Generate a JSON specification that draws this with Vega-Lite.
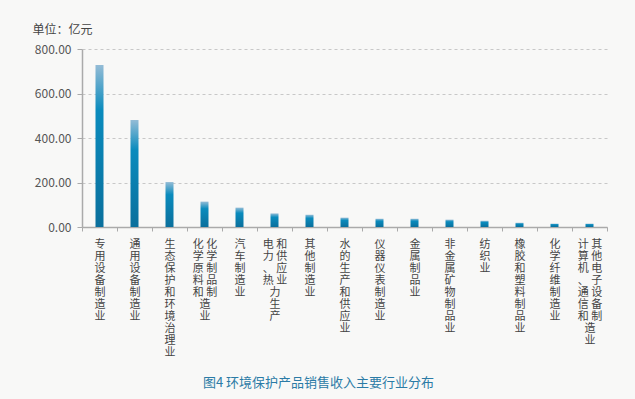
{
  "$schema": "https://vega.github.io/schema/vega-lite/v6.json",
  "width": 525,
  "height": 178,
  "autosize": {"type": "none"},
  "padding": {"left": 82, "top": 49, "right": 28, "bottom": 172},
  "background": "#f8f8f7",
  "title": {
    "text": "图4  环境保护产品销售收入主要行业分布",
    "orient": "bottom",
    "anchor": "middle",
    "frame": "group",
    "dx": -26,
    "offset": 20,
    "font": "Noto Sans CJK SC",
    "fontSize": 13,
    "fontWeight": "normal",
    "color": "#2b7ba6"
  },
  "config": {
    "view": {"stroke": null},
    "font": "Noto Sans CJK SC"
  },
  "data": {
    "values": [
      {"industry": "专用设备制造业", "revenue": 728},
      {"industry": "通用设备制造业", "revenue": 481},
      {"industry": "生态保护和环境治理业", "revenue": 202},
      {"industry": "化学原料和化学制品制造业", "revenue": 114},
      {"industry": "汽车制造业", "revenue": 87},
      {"industry": "电力、热力生产和供应业", "revenue": 61},
      {"industry": "其他制造业", "revenue": 55},
      {"industry": "水的生产和供应业", "revenue": 42},
      {"industry": "仪器仪表制造业", "revenue": 37},
      {"industry": "金属制品业", "revenue": 37},
      {"industry": "非金属矿物制品业", "revenue": 33},
      {"industry": "纺织业", "revenue": 28},
      {"industry": "橡胶和塑料制品业", "revenue": 19},
      {"industry": "化学纤维制造业", "revenue": 15},
      {"industry": "计算机、通信和其他电子设备制造业", "revenue": 15}
    ]
  },
  "mark": {
    "type": "bar",
    "size": 8,
    "color": {
      "gradient": "linear",
      "x1": 0, "y1": 0, "x2": 0, "y2": 1,
      "stops": [
        {"offset": 0, "color": "#94bcd6"},
        {"offset": 0.28, "color": "#0a8bbd"},
        {"offset": 1, "color": "#0a6f9c"}
      ]
    }
  },
  "encoding": {
    "x": {
      "field": "industry",
      "type": "nominal",
      "sort": null,
      "scale": {"paddingInner": 0, "paddingOuter": 0},
      "axis": {
        "title": null,
        "labelAngle": 0,
        "labelAlign": "center",
        "labelBaseline": "top",
        "labelFontSize": 11,
        "labelLineHeight": 12,
        "labelColor": "#444444",
        "labelPadding": 7,
        "labelOverlap": false,
        "labelLimit": 0,
        "labelBound": false,
        "tickBand": "extent",
        "tickSize": 4,
        "tickColor": "#aaaaaa",
        "domainColor": "#aaaaaa",
        "domainWidth": 1.5,
        "labelExpr": "!isString(datum.value) ? '' : datum.value == '化学原料和化学制品制造业' ? ['化 化','学 学','原 制','料 品','和 制','　 造','　 业'] : datum.value == '电力、热力生产和供应业' ? ['电 和','力 供','、 应','热 业','力 　','生 　','产 　'] : datum.value == '计算机、通信和其他电子设备制造业' ? ['计 其','算 他','机 电','、 子','通 设','信 备','和 制','　 造','　 业'] : split(datum.value, '')"
      }
    },
    "y": {
      "field": "revenue",
      "type": "quantitative",
      "scale": {"domain": [0, 800]},
      "axis": {
        "title": "单位：亿元",
        "titleAngle": 0,
        "titleAlign": "left",
        "titleBaseline": "middle",
        "titleX": -50,
        "titleY": -20,
        "titleFontSize": 12,
        "titleFontWeight": "normal",
        "titleColor": "#444444",
        "values": [0, 200, 400, 600, 800],
        "format": ".2f",
        "labelFontSize": 12,
        "labelColor": "#555555",
        "labelPadding": 6,
        "tickSize": 5,
        "tickColor": "#aaaaaa",
        "domainColor": "#aaaaaa",
        "domainWidth": 1.5,
        "gridColor": "#c8c8c8",
        "gridDash": [3, 3],
        "gridWidth": 1
      }
    }
  }
}
